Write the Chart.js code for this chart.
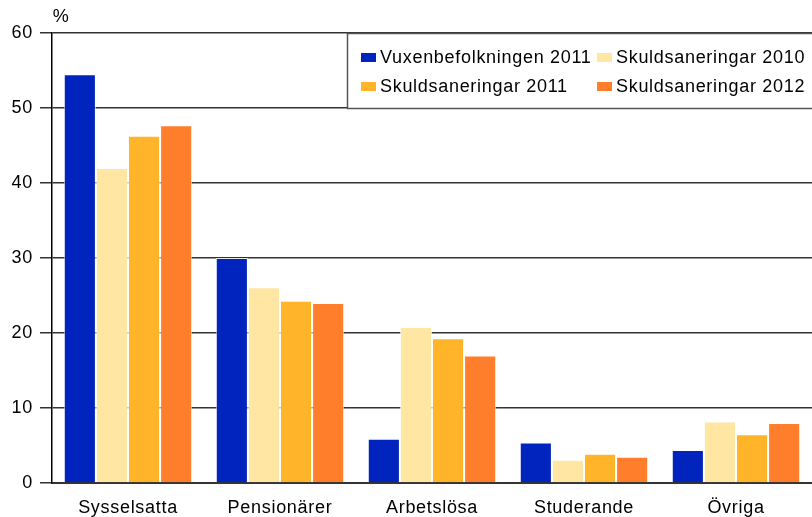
<!DOCTYPE html>
<html>
<head>
<meta charset="utf-8">
<script src="https://cdn.jsdelivr.net/npm/chart.js@4.4.1/dist/chart.umd.min.js"></script>
<style>
html,body{margin:0;padding:0;background:#fff;}
#wrap{width:812px;height:517px;position:relative;}
</style>
</head>
<body>
<div id="wrap"><canvas id="c" width="812" height="517"></canvas></div>
<script>
const categories = ['Sysselsatta', 'Pensionärer', 'Arbetslösa', 'Studerande', 'Övriga'];
const seriesNames = ['Vuxenbefolkningen 2011', 'Skuldsaneringar 2010', 'Skuldsaneringar 2011', 'Skuldsaneringar 2012'];
const vuxen2011 = [54.5, 30.0, 5.9, 5.4, 4.4];
const skuld2010 = [42.0, 26.1, 20.8, 3.1, 8.2];
const skuld2011 = [46.3, 24.3, 19.3, 3.9, 6.5];
const skuld2012 = [47.7, 24.0, 17.0, 3.5, 8.0];
const yTicks = [0, 10, 20, 30, 40, 50, 60];
const unitLabel = '%';

const colors = ['#0024bd', '#ffe6a2', '#ffb42a', '#ff7e2c'];
const FONT = '"Liberation Sans", Arial, sans-serif';
const FS = 18;
const LS = '0.7px';

const spacingPlugin = {
  id: 'spacing',
  beforeUpdate(chart){ chart.ctx.letterSpacing = LS; },
  beforeDraw(chart){ chart.ctx.letterSpacing = LS; }
};

const extrasPlugin = {
  id: 'extras',
  afterDraw(chart){
    const ctx = chart.ctx;
    ctx.save();
    ctx.letterSpacing = LS;
    ctx.fillStyle = '#000';
    ctx.font = FS + 'px ' + FONT;
    ctx.textAlign = 'center';
    ctx.textBaseline = 'middle';
    ctx.fillText(unitLabel, 61, 17);
    // legend box
    const bx = 347, by = 33, bw = 480, bh = 75;
    ctx.fillStyle = '#fff';
    ctx.fillRect(bx, by, bw, bh);
    ctx.strokeStyle = '#555';
    ctx.lineWidth = 1.5;
    ctx.strokeRect(bx + 0.5, by + 0.5, bw, bh);
    const pos = [[361, 57], [597, 57], [361, 86], [597, 86]];
    chart.data.datasets.forEach((ds, i) => {
      const [x, y] = pos[i];
      ctx.fillStyle = ds.backgroundColor;
      ctx.fillRect(x, y - 4, 15, 9);
      ctx.fillStyle = '#000';
      ctx.textAlign = 'left';
      ctx.textBaseline = 'middle';
      ctx.fillText(ds.label, x + 19, y + 1);
    });
    ctx.restore();
  }
};

const datasets = [vuxen2011, skuld2010, skuld2011, skuld2012].map((d, i) => ({
  label: seriesNames[i],
  data: d,
  backgroundColor: colors[i],
  borderColor: 'rgba(255,255,255,0.75)',
  borderWidth: 1,
  categoryPercentage: 0.845,
  barPercentage: 1.0
}));

new Chart(document.getElementById('c'), {
  type: 'bar',
  data: { labels: categories, datasets },
  plugins: [spacingPlugin, extrasPlugin],
  options: {
    responsive: false,
    animation: false,
    devicePixelRatio: 1,
    layout: { padding: { top: 33, right: 0, left: 0, bottom: 0 } },
    plugins: { legend: { display: false }, tooltip: { enabled: false } },
    scales: {
      x: {
        grid: { display: false },
        border: { display: true, color: '#333', width: 2 },
        ticks: { color: '#000', font: { family: FONT, size: FS }, padding: 6, maxRotation: 0 },
        afterFit(s){ s.height = 34; }
      },
      y: {
        min: 0, max: 60,
        afterBuildTicks(s){ s.ticks = yTicks.map(v => ({ value: v })); },
        grid: { color: '#333', lineWidth: 1.5, tickLength: 12, drawTicks: true },
        border: { display: true, color: '#000', width: 1.5 },
        ticks: { color: '#000', font: { family: FONT, size: FS }, padding: 7 },
        afterFit(s){ s.width = 52; }
      }
    }
  }
});
</script>
</body>
</html>
